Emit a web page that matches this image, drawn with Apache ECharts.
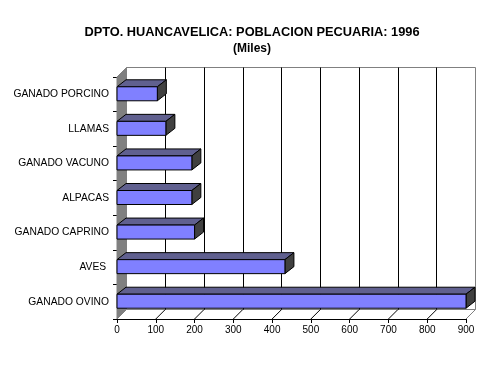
<!DOCTYPE html>
<html>
<head>
<meta charset="utf-8">
<script src="https://cdn.jsdelivr.net/npm/echarts@6/dist/echarts.min.js"></script>
<style>html,body{margin:0;padding:0;background:#fff}#c{width:488px;height:374px}</style>
</head>
<body>
<div id="c"></div>
<script>
const categories = ['GANADO PORCINO','LLAMAS','GANADO VACUNO','ALPACAS','GANADO CAPRINO','AVES ','GANADO OVINO'];
const values = [104, 126, 193, 193, 200, 433, 900];
const xTicks = [0, 100, 200, 300, 400, 500, 600, 700, 800, 900];

const FONT = "'Liberation Sans', Arial, sans-serif";
const WX = 9.5, WY = 9.5;   // wall depth offset
const BX = 9, BY = 7;       // bar depth offset
const BAR_H = 14;

const chart = echarts.init(document.getElementById('c'), null, {renderer: 'canvas'});

const splitColors = xTicks.map((t, i) => (i === 0 || i === xTicks.length - 1) ? 'rgba(0,0,0,0)' : '#000');

chart.setOption({
  animation: false,
  backgroundColor: '#fff',
  title: [
    {text: 'DPTO. HUANCAVELICA: POBLACION PECUARIA: 1996', left: 247, top: 21, textAlign: 'center',
     textStyle: {fontFamily: FONT, fontSize: 12.8, fontWeight: 'bold', color: '#000'}},
    {text: '(Miles)', left: 247, top: 38, textAlign: 'center',
     textStyle: {fontFamily: FONT, fontSize: 12, fontWeight: 'bold', color: '#000'}}
  ],
  grid: [
    {left: 117 + WX, right: 22 - WX, top: 77 - WY, bottom: 55 + WY, show: true,
     borderColor: '#808080', borderWidth: 1, backgroundColor: 'transparent'},
    {left: 117, right: 22, top: 77, bottom: 55, show: false}
  ],
  xAxis: [
    {gridIndex: 0, type: 'value', min: 0, max: 900, interval: 100,
     axisLine: {show: false}, axisTick: {show: false}, axisLabel: {show: false},
     splitLine: {show: true, lineStyle: {color: splitColors, width: 1}}},
    {gridIndex: 1, type: 'value', min: 0, max: 900, interval: 100,
     axisLine: {show: true, lineStyle: {color: '#000', width: 1}},
     axisTick: {show: true, length: 4, lineStyle: {color: '#000'}},
     axisLabel: {show: true, fontFamily: FONT, fontSize: 10, color: '#000', margin: 6},
     splitLine: {show: false}}
  ],
  yAxis: [
    {gridIndex: 0, type: 'category', data: categories, inverse: true,
     axisLine: {show: false}, axisTick: {show: false}, axisLabel: {show: false}, splitLine: {show: false}},
    {gridIndex: 1, type: 'category', data: categories, inverse: true,
     axisLine: {show: true, lineStyle: {color: '#000', width: 1}},
     axisTick: {show: true, length: 4, lineStyle: {color: '#000'}},
     axisLabel: {show: true, fontFamily: FONT, fontSize: 10.3, color: '#000', margin: 8},
     splitLine: {show: false}}
  ],
  series: [
    {
      // left wall and floor edge
      type: 'custom', xAxisIndex: 1, yAxisIndex: 1, z: 1, silent: true,
      data: [[0, 0]],
      renderItem: function (params, api) {
        const cs = params.coordSys;
        const x0 = cs.x, y0 = cs.y, y1 = cs.y + cs.height, x1 = cs.x + cs.width;
        return {
          type: 'group',
          children: [
            {type: 'polygon', shape: {points: [[x0, y1], [x0, y0], [x0 + WX, y0 - WY], [x0 + WX, y1 - WY]]},
             style: {fill: '#808080', stroke: '#808080', lineWidth: 1}},
            {type: 'polyline', shape: {points: [[x1, y1], [x1 + WX, y1 - WY]]},
             style: {stroke: '#808080', lineWidth: 1, fill: null}}
          ]
        };
      }
    },
    {
      // floor grid lines
      type: 'custom', xAxisIndex: 1, yAxisIndex: 1, z: 1, silent: true,
      data: xTicks.slice(1, -1).map(v => [v, 0]),
      renderItem: function (params, api) {
        const cs = params.coordSys;
        const y1 = cs.y + cs.height;
        const x = api.coord([api.value(0), 0])[0];
        return {type: 'line', shape: {x1: x, y1: y1, x2: x + WX, y2: y1 - WY},
                style: {stroke: '#000', lineWidth: 1}};
      }
    },
    {
      // 3D bars
      type: 'custom', xAxisIndex: 1, yAxisIndex: 1, z: 3,
      data: values.map((v, i) => [v, i]),
      encode: {x: 0, y: 1},
      renderItem: function (params, api) {
        const p0 = api.coord([0, api.value(1)]);
        const p1 = api.coord([api.value(0), api.value(1)]);
        const xa = p0[0], xb = p1[0];
        const yt = p0[1] - 7.5, yb = yt + BAR_H;
        return {
          type: 'group',
          children: [
            {type: 'polygon', shape: {points: [[xa, yt], [xa + BX, yt - BY], [xb + BX, yt - BY], [xb, yt]]},
             style: {fill: '#60608f', stroke: '#000', lineWidth: 1}},
            {type: 'polygon', shape: {points: [[xb, yt], [xb + BX, yt - BY], [xb + BX, yb - BY], [xb, yb]]},
             style: {fill: '#404040', stroke: '#000', lineWidth: 1}},
            {type: 'rect', shape: {x: xa, y: yt, width: xb - xa, height: BAR_H},
             style: {fill: '#8080ff', stroke: '#000', lineWidth: 1}}
          ]
        };
      }
    }
  ]
});
</script>
</body>
</html>
